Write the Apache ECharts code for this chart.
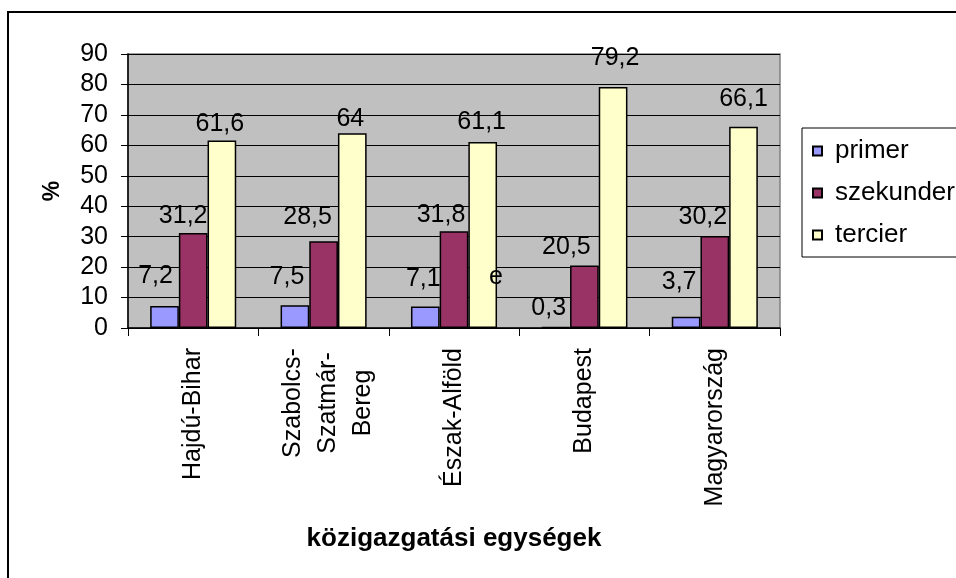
<!DOCTYPE html>
<html>
<head>
<meta charset="utf-8">
<script src="https://cdn.jsdelivr.net/npm/echarts@6/dist/echarts.min.js"></script>
<style>
html,body{margin:0;padding:0;background:#fff;}
#chart{width:956px;height:578px;}
</style>
</head>
<body>
<div id="chart"></div>
<script>
// ---- data ----
var categories = ['Hajdú-Bihar', 'Szabolcs-\nSzatmár-\nBereg', 'Észak-Alföld', 'Budapest', 'Magyarország'];
var seriesNames = ['primer', 'szekunder', 'tercier'];
var primer = [7.2, 7.5, 7.1, 0.3, 3.7];
var szekunder = [31.2, 28.5, 31.8, 20.5, 30.2];
var tercier = [61.6, 64, 61.1, 79.2, 66.1];
var labelTexts = {
  primer: ['7,2', '7,5', '7,1', '0,3', '3,7'],
  szekunder: ['31,2', '28,5', '31,8', '20,5', '30,2'],
  tercier: ['61,6', '64', '61,1', '79,2', '66,1']
};
var yTicks = [0, 10, 20, 30, 40, 50, 60, 70, 80, 90];

// ---- label placement (manual positions in the original) ----
var labelOffsets = {
  primer:    [[-9, -17], [-8, -16], [-2, -15], [-7, -6], [-7, -22]],
  szekunder: [[-10, -4], [-16, -12], [-13, -4], [-18, -6], [-12, -6]],
  tercier:   [[-2, -4], [-2, -2], [-1, -7], [2, -16], [0, -15]]
};

var FONT = "'Liberation Sans', Arial, sans-serif";
var colors = {primer: '#9999ff', szekunder: '#993366', tercier: '#ffffcc'};
var values = {primer: primer, szekunder: szekunder, tercier: tercier};

function buildSeries(name) {
  return {
    name: name,
    type: 'bar',
    barGap: '0%',
    barCategoryGap: '34%',
    itemStyle: {color: colors[name], borderColor: '#000', borderWidth: 1.5},
    label: {
      show: true, position: 'top', distance: 0,
      fontFamily: FONT, fontSize: 25, color: '#000'
    },
    data: values[name].map(function (v, i) {
      return {
        value: v,
        label: {
          offset: labelOffsets[name][i],
          formatter: labelTexts[name][i]
        }
      };
    })
  };
}

var chart = echarts.init(document.getElementById('chart'), null, {renderer: 'canvas'});
chart.setOption({
  animation: false,
  backgroundColor: '#fff',
  textStyle: {fontFamily: FONT},
  grid: {
    left: 128, top: 54, width: 652, height: 274,
    show: true, backgroundColor: '#c0c0c0', borderColor: '#808080', borderWidth: 1.5
  },
  legend: {
    orient: 'vertical', left: 802, top: 128,
    padding: [10, 12, 9, 10],
    itemGap: 16, itemWidth: 9, itemHeight: 9, icon: 'rect',
    borderColor: '#000', borderWidth: 1,
    backgroundColor: '#fff',
    textStyle: {fontFamily: FONT, fontSize: 26, color: '#000', padding: [0, 0, 0, 8]},
    data: seriesNames
  },
  xAxis: {
    type: 'category',
    data: categories,
    name: 'közigazgatási egységek',
    nameLocation: 'middle', nameGap: 198,
    nameTextStyle: {fontFamily: FONT, fontSize: 26, fontWeight: 'bold', color: '#000'},
    axisLine: {lineStyle: {color: '#000', width: 1.5}},
    axisTick: {show: true, length: 8, lineStyle: {color: '#000'}, interval: 0},
    axisLabel: {
      interval: 0, rotate: 90, margin: 20,
      fontFamily: FONT, fontSize: 25, color: '#000',
      formatter: function (v) {
        if (v.indexOf('\n') >= 0) {
          return v.split('\n').map(function (s) { return '{c|' + s + '}'; }).join('\n');
        }
        return v;
      },
      rich: {c: {width: 110, align: 'center', fontFamily: FONT, fontSize: 25, lineHeight: 35, color: '#000', padding: [10, 0, 0, 0]}}
    }
  },
  yAxis: {
    type: 'value', min: yTicks[0], max: yTicks[yTicks.length - 1], interval: yTicks[1] - yTicks[0],
    name: '%', nameLocation: 'middle', nameGap: 64, nameRotate: 90,
    nameTextStyle: {fontFamily: FONT, fontSize: 23, fontWeight: 'bold', color: '#000'},
    axisLine: {show: true, lineStyle: {color: '#000', width: 1.5}},
    axisTick: {show: true, length: 7, lineStyle: {color: '#000'}},
    axisLabel: {margin: 20, fontFamily: FONT, fontSize: 25, color: '#000'},
    splitLine: {show: true, lineStyle: {color: '#000', width: 1}}
  },
  graphic: [
    {
      type: 'rect', silent: true, z: -10,
      shape: {x: 8, y: 12, width: 1200, height: 1200},
      style: {fill: 'none', stroke: '#000', lineWidth: 2}
    },
    {
      type: 'text', left: 489, top: 265, z: 100,
      style: {text: 'e', fontFamily: FONT, fontSize: 25, fill: '#000'}
    }
  ],
  series: seriesNames.map(buildSeries)
});
</script>
</body>
</html>
